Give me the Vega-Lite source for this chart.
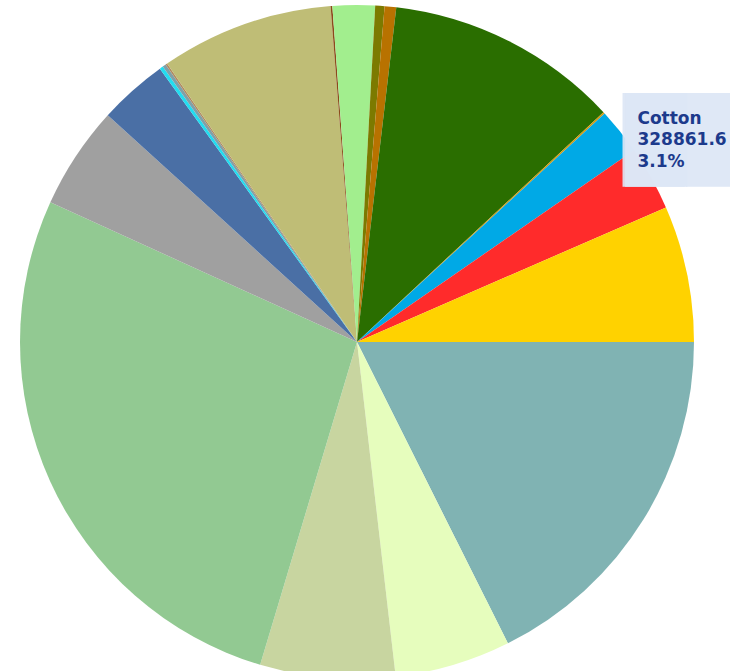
{
  "$schema": "https://vega.github.io/schema/vega-lite/v6.json",
  "width": 714,
  "height": 684,
  "padding": {"left": 0, "top": 0, "right": 16, "bottom": 0},
  "autosize": {"type": "none"},
  "background": "white",
  "config": {"view": {"stroke": null}},
  "data": {
    "values": [
      {"idx": 1, "crop": "Category 1", "value": 1868265},
      {"idx": 2, "crop": "Category 2", "value": 589358},
      {"idx": 3, "crop": "Category 3", "value": 686602},
      {"idx": 4, "crop": "Category 4", "value": 2881961},
      {"idx": 5, "crop": "Category 5", "value": 524529},
      {"idx": 6, "crop": "Category 6", "value": 350668},
      {"idx": 7, "crop": "Category 7", "value": 17681},
      {"idx": 8, "crop": "Category 8", "value": 17681},
      {"idx": 9, "crop": "Category 9", "value": 8840},
      {"idx": 10, "crop": "Category 10", "value": 878143},
      {"idx": 11, "crop": "Category 11", "value": 8840},
      {"idx": 12, "crop": "Category 12", "value": 215116},
      {"idx": 13, "crop": "Category 13", "value": 47149},
      {"idx": 14, "crop": "Category 14", "value": 58936},
      {"idx": 15, "crop": "Category 15", "value": 1187556},
      {"idx": 16, "crop": "Category 16", "value": 8840},
      {"idx": 17, "crop": "Category 17", "value": 235743},
      {"idx": 18, "crop": "Cotton", "value": 328861.6, "tip": "Cotton\n328861.6\n3.1%"},
      {"idx": 19, "crop": "Category 19", "value": 693674}
    ]
  },
  "encoding": {
    "theta": {"field": "value", "type": "quantitative", "stack": true, "scale": {"range": [1.5708, 7.854]}},
    "order": {"field": "idx", "type": "quantitative"}
  },
  "layer": [
    {
      "mark": {"type": "arc", "radius": 337, "stroke": null},
      "encoding": {
        "color": {
          "field": "crop",
          "type": "nominal",
          "legend": null,
          "sort": null,
          "scale": {
            "domain": ["Category 1", "Category 2", "Category 3", "Category 4", "Category 5", "Category 6", "Category 7", "Category 8", "Category 9", "Category 10", "Category 11", "Category 12", "Category 13", "Category 14", "Category 15", "Category 16", "Category 17", "Cotton", "Category 19"],
            "range": ["#80B3B3", "#E6FDBD", "#C8D5A0", "#92C992", "#A0A0A0", "#4A6FA5", "#22DDF0", "#80A0A8", "#B08A60", "#BFBD76", "#8B4A1A", "#A2EE8E", "#7C7A00", "#B87200", "#2A6E00", "#D49A10", "#00A9E6", "#FF2B2B", "#FFD200"]
          }
        }
      }
    },
    {
      "mark": {"type": "text", "radius": 321, "text": "█", "font": "DejaVu Sans", "fontSize": 79, "align": "left", "baseline": "top", "dx": -14, "dy": -81, "color": "#DCE6F5", "fillOpacity": 0.92},
      "encoding": {
        "opacity": {"condition": {"test": "datum.crop === 'Cotton'", "value": 1}, "value": 0}
      }
    },
    {
      "mark": {"type": "text", "radius": 321, "text": "██", "font": "DejaVu Sans", "fontSize": 79, "align": "right", "baseline": "top", "dx": 110, "dy": -81, "color": "#DCE6F5", "fillOpacity": 0.92},
      "encoding": {
        "opacity": {"condition": {"test": "datum.crop === 'Cotton'", "value": 1}, "value": 0}
      }
    },
    {
      "mark": {"type": "text", "radius": 321, "font": "DejaVu Sans", "fontSize": 17, "fontWeight": "bold", "align": "left", "baseline": "top", "lineBreak": "\n", "lineHeight": 21.5, "dx": 0, "dy": -75, "color": "#1C3A8C"},
      "encoding": {
        "text": {"condition": {"test": "datum.crop === 'Cotton'", "field": "tip"}, "value": ""}
      }
    }
  ]
}
